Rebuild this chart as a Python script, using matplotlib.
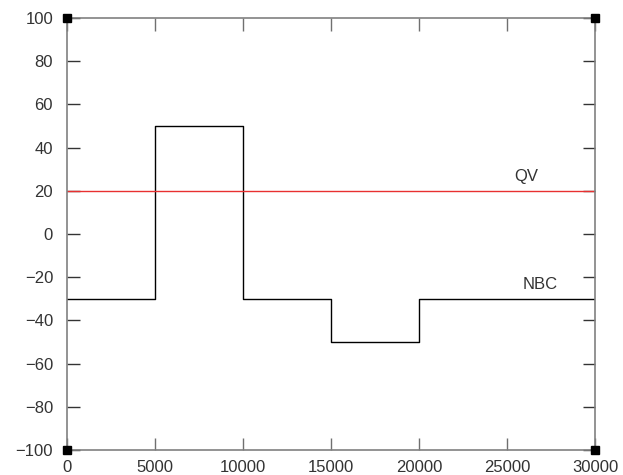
import matplotlib
matplotlib.use("Agg")
import matplotlib.pyplot as plt

# NBC profile, piecewise constant along x
nbc_x = [0, 5000, 10000, 15000, 20000, 30000]
nbc_y = [-30, 50, -30, -50, -30, -30]
qv_level = 20

xticks = [0, 5000, 10000, 15000, 20000, 25000, 30000]
yticks = [-100, -80, -60, -40, -20, 0, 20, 40, 60, 80, 100]

plt.rcParams['font.family'] = ['Liberation Sans', 'DejaVu Sans']

fig = plt.figure(figsize=(6.23, 4.75), dpi=100)
ax = fig.add_axes([67 / 623, 25 / 475, 528 / 623, 432 / 475])

ax.step(nbc_x, nbc_y, where='post', color='black', lw=1)
ax.axhline(qv_level, color='#e83030', lw=1)

ax.text(26100, 26.5, 'QV', ha='center', va='center', fontsize=12, color='#333333')
ax.text(26900, -23.5, 'NBC', ha='center', va='center', fontsize=12, color='#333333')

ax.set_xlim(0, 30000)
ax.set_ylim(-100, 100)
ax.set_xticks(xticks)
ax.set_yticks(yticks)
ax.set_yticklabels([str(v).replace('-', '\u2212') for v in yticks])

for s in ax.spines.values():
    s.set_color('#808080')
    s.set_linewidth(1.2)
ax.tick_params(direction='in', length=9, width=1, color='#333333',
               top=True, right=True, labelsize=12, labelcolor='#333333')
ax.tick_params(axis='x', pad=7, color='#707070')
ax.tick_params(axis='y', pad=10)

# corner markers
ax.plot([0, 30000, 0, 30000], [-100, -100, 100, 100], 's', color='black',
        ms=6, clip_on=False, zorder=5)

fig.savefig('out.png', dpi=100)
